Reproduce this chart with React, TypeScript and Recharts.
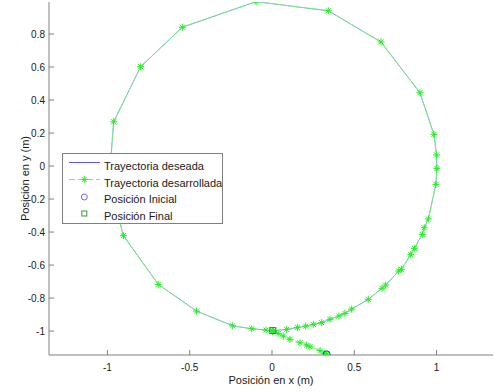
import React from "react";
import { Legend, Scatter, ScatterChart, XAxis, YAxis } from "recharts";

// trayectoria del robot (m)
const tramoInicialX = [0.332, 0.322, 0.292, 0.231, 0.211, 0.17, 0.109, 0.069, 0.038, 0.005];
const tramoInicialY = [-1.141, -1.135, -1.119, -1.095, -1.085, -1.071, -1.05, -1.03, -1.014, -1.0];

const circuloX = [
  0.005, -0.036, -0.123, -0.239, -0.458, -0.691, -0.903, -0.99, -0.962, -0.798, -0.545, -0.097,
  0.342, 0.662, 0.899, 0.984, 1.0, 1.002, 0.996, 0.95, 0.925, 0.913, 0.865, 0.843, 0.786, 0.77,
  0.691, 0.668, 0.585, 0.484, 0.443, 0.407, 0.352, 0.302, 0.251, 0.205, 0.154, 0.089, 0.008,
];
const circuloY = [
  -1.0, -0.994, -0.986, -0.968, -0.879, -0.717, -0.422, -0.09, 0.268, 0.602, 0.841, 0.996,
  0.941, 0.752, 0.444, 0.192, 0.067, -0.016, -0.111, -0.321, -0.374, -0.414, -0.499, -0.537, -0.626, -0.636,
  -0.721, -0.741, -0.808, -0.867, -0.893, -0.909, -0.929, -0.949, -0.959, -0.97, -0.978, -0.99, -0.998,
];

const posicionInicial = [0.332, -1.141];
const posicionFinal = [0.005, -0.997];

const xTicks = [-1, -0.5, 0, 0.5, 1];
const yTicks = [-1, -0.8, -0.6, -0.4, -0.2, 0, 0.2, 0.4, 0.6, 0.8];

const zip = (xs: number[], ys: number[]) => xs.map((x, i) => ({ x, y: ys[i] }));
const deseada = zip(circuloX, circuloY);
const desarrollada = zip([...tramoInicialX, ...circuloX], [...tramoInicialY, ...circuloY]);
const inicial = [{ x: posicionInicial[0], y: posicionInicial[1] }];
const final = [{ x: posicionFinal[0], y: posicionFinal[1] }];

const AZUL = "#7d7dff";
const VERDE = "#6cf56c";
const EJE = "#808080";
const TEXTO = "#1a1a1a";
const FUENTE = "'Liberation Sans', Arial, sans-serif";

const Asterisco = ({ cx, cy }: any) => (
  <g stroke="#22ee22" strokeWidth={1}>
    <line x1={cx - 3.5} y1={cy} x2={cx + 3.5} y2={cy} />
    <line x1={cx} y1={cy - 3.5} x2={cx} y2={cy + 3.5} />
    <line x1={cx - 2.5} y1={cy - 2.5} x2={cx + 2.5} y2={cy + 2.5} />
    <line x1={cx - 2.5} y1={cy + 2.5} x2={cx + 2.5} y2={cy - 2.5} />
  </g>
);

const Nada = () => <g />;

const Circulo = ({ cx, cy }: any) => (
  <circle cx={cx} cy={cy} r={3.5} fill="none" stroke="#1f3fff" strokeWidth={1} />
);

const Cuadrado = ({ cx, cy }: any) => (
  <rect x={cx - 3} y={cy - 3} width={6} height={6} fill="none" stroke="#2a8a2a" strokeWidth={1} />
);

// ticks hacia dentro, como en MATLAB
const TickAbajo = ({ x, y, payload }: any) => (
  <g>
    <line x1={x} y1={y} x2={x} y2={y - 5} stroke={EJE} />
    <text x={x} y={y + 15.5} textAnchor="middle" fontSize={10} fontFamily={FUENTE} fill={TEXTO}>
      {payload.value}
    </text>
  </g>
);
const TickArriba = ({ x, y }: any) => <line x1={x} y1={y} x2={x} y2={y + 5} stroke={EJE} />;
const TickIzq = ({ x, y, payload }: any) => (
  <g>
    <line x1={x} y1={y} x2={x + 5} y2={y} stroke={EJE} />
    <text x={x - 4} y={y + 3.6} textAnchor="end" fontSize={10} fontFamily={FUENTE} fill={TEXTO}>
      {payload.value}
    </text>
  </g>
);
const TickDer = ({ x, y }: any) => <line x1={x} y1={y} x2={x - 5} y2={y} stroke={EJE} />;

const Leyenda = () => {
  const filas = [13, 29.5, 46, 62.5];
  const txt = { fontSize: 11, fontFamily: FUENTE, fill: TEXTO };
  return (
    <svg width={161} height={71} style={{ display: "block" }}>
      <rect x={0.5} y={0.5} width={160} height={70} fill="#fff" stroke={EJE} />
      <line x1={7} y1={filas[0] - 3.5} x2={38} y2={filas[0] - 3.5} stroke="#5b5bff" />
      <text x={42} y={filas[0] + 4} {...txt}>Trayectoria deseada</text>
      <line x1={7} y1={filas[1] - 3} x2={38} y2={filas[1] - 3} stroke={VERDE} strokeDasharray="6 3" />
      <Asterisco cx={22.3} cy={filas[1] - 3} />
      <text x={42} y={filas[1] + 4} {...txt}>Trayectoria desarrollada</text>
      <circle cx={22.3} cy={filas[2] - 2} r={3} fill="none" stroke="#6a6aff" />
      <text x={42} y={filas[2] + 4} {...txt}>Posición Inicial</text>
      <rect x={19.8} y={filas[3] - 4.5} width={5} height={5} fill="none" stroke="#3a9a3a" />
      <text x={42} y={filas[3] + 4} {...txt}>Posición Final</text>
    </svg>
  );
};

export default function App() {
  const xDom: [number, number] = [-1.355, 1.343];
  const yDom: [number, number] = [-1.145, 0.994];
  return (
    <div style={{ position: "absolute", left: 0, top: 0, background: "#fff" }}>
      <ScatterChart width={494} height={392} margin={{ top: 2, right: 1, bottom: 0, left: 0 }}>
        <XAxis
          dataKey="x"
          type="number"
          domain={xDom}
          allowDataOverflow
          ticks={xTicks}
          height={37}
          tickSize={0}
          tickMargin={0}
          tick={<TickAbajo />}
          stroke={EJE}
          label={{ value: "Posición en x (m)", position: "center", dy: 7, fontSize: 11, fontFamily: FUENTE, fill: TEXTO }}
        />
        <XAxis
          xAxisId="top"
          orientation="top"
          dataKey="x"
          type="number"
          domain={xDom}
          allowDataOverflow
          ticks={xTicks}
          height={0}
          tickSize={0}
          tickMargin={0}
          tick={<TickArriba />}
          stroke={EJE}
        />
        <YAxis
          dataKey="y"
          type="number"
          domain={yDom}
          allowDataOverflow
          ticks={yTicks}
          width={49}
          tickSize={0}
          tickMargin={0}
          tick={<TickIzq />}
          stroke={EJE}
          label={{ value: "Posición en y (m)", angle: -90, position: "center", dx: 1, fontSize: 11, fontFamily: FUENTE, fill: TEXTO }}
        />
        <YAxis
          yAxisId="right"
          orientation="right"
          dataKey="y"
          type="number"
          domain={yDom}
          allowDataOverflow
          ticks={yTicks}
          width={0}
          tickSize={0}
          tickMargin={0}
          tick={<TickDer />}
          stroke={EJE}
        />
        <Scatter
          name="Trayectoria deseada"
          data={deseada}
          fill={AZUL}
          line={{ stroke: AZUL, strokeWidth: 0.8 }}
          lineType="joint"
          shape={Nada}
          isAnimationActive={false}
        />
        <Scatter
          name="Trayectoria desarrollada"
          data={desarrollada}
          fill={VERDE}
          line={{ stroke: VERDE, strokeWidth: 1, strokeDasharray: "7 2" }}
          lineType="joint"
          shape={Asterisco}
          isAnimationActive={false}
        />
        <Scatter name="Posición Inicial" data={inicial} fill="#1f3fff" shape={Circulo} isAnimationActive={false} />
        <Scatter name="Posición Final" data={final} fill="#2a8a2a" shape={Cuadrado} isAnimationActive={false} />
        <Legend
          layout="vertical"
          align="center"
          verticalAlign="middle"
          wrapperStyle={{ left: 62, top: 153, width: 161, height: 71 }}
          content={() => <Leyenda />}
        />
      </ScatterChart>
    </div>
  );
}
